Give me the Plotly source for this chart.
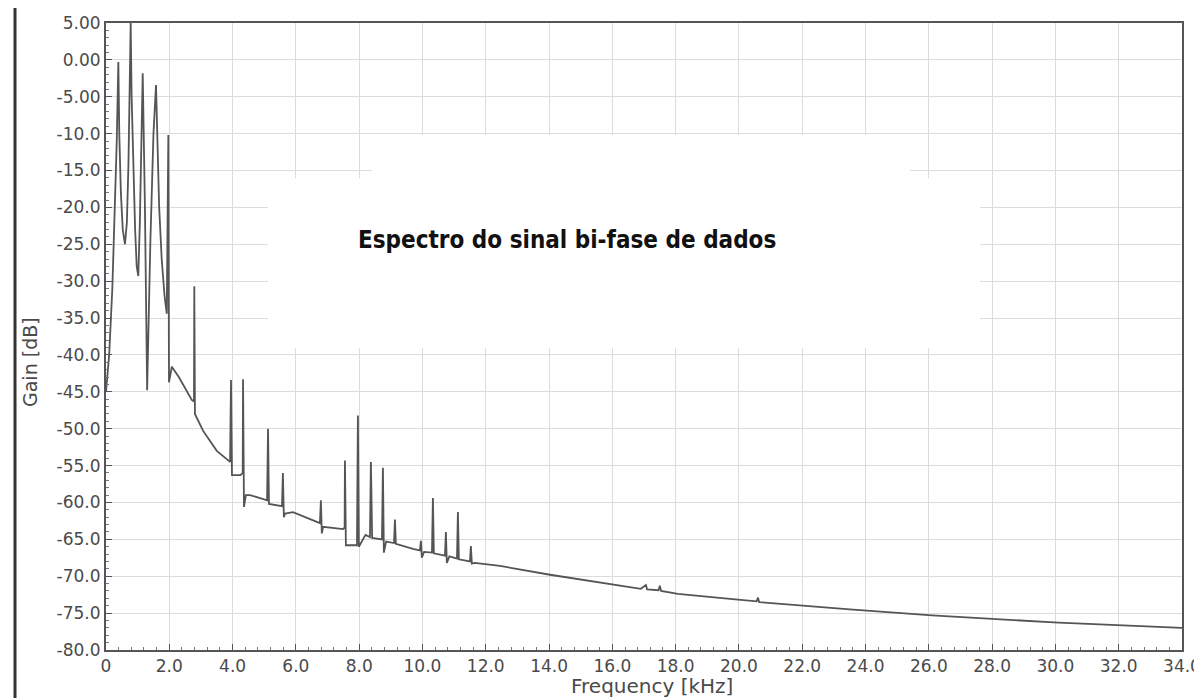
import plotly.graph_objects as go

# ---------------- data ----------------
freq_khz = [0.00, 0.10, 0.20, 0.28, 0.34, 0.39, 0.42, 0.47, 0.53, 0.60, 0.66, 0.71, 0.75, 0.78,
            0.81, 0.86, 0.92, 0.97, 1.02, 1.07, 1.12, 1.16, 1.23, 1.30, 1.40, 1.50, 1.58, 1.62,
            1.68, 1.76, 1.85, 1.92, 1.97, 1.99, 2.08, 2.30, 2.50, 2.71, 2.78, 2.79, 2.81, 3.07,
            3.50, 3.92, 3.95, 3.98, 4.25, 4.32, 4.33, 4.36, 4.42, 4.55, 5.09, 5.12, 5.15, 5.56,
            5.59, 5.62, 5.66, 5.91, 6.76, 6.79, 6.82, 6.86, 7.49, 7.54, 7.55, 7.58, 7.93, 7.96,
            7.99, 8.20, 8.34, 8.37, 8.41, 8.72, 8.75, 8.78, 8.85, 9.10, 9.13, 9.16, 9.70, 9.92,
            9.95, 9.98, 10.05, 10.30, 10.33, 10.36, 10.71, 10.74, 10.77, 10.85, 11.09, 11.12,
            11.15, 11.50, 11.53, 11.56, 11.65, 12.45, 14.03, 16.00, 16.90, 17.06, 17.10, 17.46,
            17.50, 17.54, 18.07, 19.80, 20.56, 20.60, 20.64, 23.50, 26.10, 30.10, 34.00]

gain_db = [-45.0, -40.0, -31.0, -21.0, -11.0, -0.3, -10.0, -18.0, -23.0, -25.0, -22.0, -14.0, -4.0, 5.0,
           -5.0, -15.0, -23.0, -28.0, -29.3, -22.0, -10.0, -1.8, -20.0, -44.8, -25.0, -10.0, -3.4, -12.0,
           -20.0, -27.0, -32.0, -34.4, -10.2, -43.7, -41.6, -43.0, -44.5, -46.1, -46.3, -30.7, -48.0, -50.3,
           -53.0, -54.5, -43.4, -56.3, -56.3, -56.0, -43.3, -60.6, -59.0, -59.0, -59.7, -50.0, -60.2, -60.5,
           -56.0, -62.0, -61.5, -61.3, -62.8, -59.7, -64.2, -63.3, -63.6, -63.4, -54.3, -65.8, -65.8, -48.2,
           -66.0, -64.4, -64.7, -54.5, -64.8, -65.0, -55.3, -66.8, -65.3, -65.5, -62.3, -65.6, -66.3, -66.5,
           -65.2, -67.5, -66.7, -66.8, -59.4, -66.9, -67.2, -64.0, -68.2, -67.3, -67.6, -61.3,
           -67.7, -68.0, -65.9, -68.3, -68.2, -68.6, -69.8, -71.1, -71.7, -71.2, -71.8, -71.9,
           -71.3, -72.0, -72.4, -73.1, -73.4, -72.9, -73.5, -74.5, -75.3, -76.3, -77.0]

x_tick_vals = [0, 2, 4, 6, 8, 10, 12, 14, 16, 18, 20, 22, 24, 26, 28, 30, 32, 34]
x_tick_text = ["0", "2.0", "4.0", "6.0", "8.0", "10.0", "12.0", "14.0", "16.0", "18.0", "20.0",
               "22.0", "24.0", "26.0", "28.0", "30.0", "32.0", "34.0"]
y_tick_vals = [5, 0, -5, -10, -15, -20, -25, -30, -35, -40, -45, -50, -55, -60, -65, -70, -75, -80]
y_tick_text = ["5.00", "0.00", "-5.00", "-10.0", "-15.0", "-20.0", "-25.0", "-30.0", "-35.0",
               "-40.0", "-45.0", "-50.0", "-55.0", "-60.0", "-65.0", "-70.0", "-75.0", "-80.0"]

title_text = "Espectro do sinal bi-fase de dados"
x_title = "Frequency [kHz]"
y_title = "Gain [dB]"

# ---------------- layout geometry (screen pixels) ----------------
OFF = 8                      # default page margin of the written html
W, H = 1202, 698
L, R, T, B = 106, 1182, 23, 650   # plot area edges on screen
PW, PH = R - L, B - T


def px(xp):
    return (xp - L) / PW


def py(yp):
    return (B - yp) / PH


fig = go.Figure()
fig.add_trace(go.Scatter(
    x=freq_khz, y=gain_db, mode="lines",
    line=dict(color="#555555", width=1.8),
    hoverinfo="x+y", showlegend=False,
))

axis_font = dict(family="DejaVu Sans, Verdana, sans-serif", size=17, color="#4a4a4a")

fig.update_layout(
    width=W, height=H,
    margin=dict(l=L - OFF, r=W - R + OFF, t=T - OFF, b=H - B + OFF, autoexpand=False),
    paper_bgcolor="white", plot_bgcolor="white",
    xaxis=dict(
        range=[0, 34], tickvals=x_tick_vals, ticktext=x_tick_text,
        showgrid=True, gridcolor="#dcdcdc", gridwidth=1, zeroline=False,
        showline=True, linecolor="#555555", linewidth=2, mirror=True,
        ticks="inside", ticklen=6, tickcolor="#555555",
        minor=dict(dtick=0.4, ticks="inside", ticklen=3, tickcolor="#777777", showgrid=False),
        tickfont=axis_font,
    ),
    yaxis=dict(
        range=[-80, 5], tickvals=y_tick_vals, ticktext=y_tick_text,
        showgrid=True, gridcolor="#dcdcdc", gridwidth=1, zeroline=False,
        showline=True, linecolor="#555555", linewidth=2, mirror=True,
        ticks="inside", ticklen=6, tickcolor="#555555",
        minor=dict(dtick=1, ticks="inside", ticklen=3, tickcolor="#777777", showgrid=False),
        tickfont=axis_font,
    ),
    shapes=[
        # dark bar at the left edge of the image
        dict(type="line", xref="paper", yref="paper",
             x0=px(15), x1=px(15), y0=py(7), y1=py(698),
             line=dict(color="#333333", width=3)),
        # white label box behind the title
        dict(type="rect", xref="paper", yref="paper", layer="above",
             x0=px(268), x1=px(980), y0=py(348), y1=py(178),
             fillcolor="white", line=dict(width=0)),
        dict(type="rect", xref="paper", yref="paper", layer="above",
             x0=px(372), x1=px(910), y0=py(178), y1=py(135),
             fillcolor="white", line=dict(width=0)),
    ],
    annotations=[
        dict(text="<b>" + title_text + "</b>", xref="paper", yref="paper",
             x=px(567), y=py(240), xanchor="center", yanchor="middle", showarrow=False,
             font=dict(family="DejaVu Sans Condensed, Liberation Sans Narrow, Arial Narrow, sans-serif",
                       size=24, color="#111111")),
        dict(text=y_title, xref="paper", yref="paper", textangle=-90,
             x=px(30), y=py(362), xanchor="center", yanchor="middle", showarrow=False,
             font=dict(family="DejaVu Sans, Verdana, sans-serif", size=19, color="#4a4a4a")),
        dict(text=x_title, xref="paper", yref="paper",
             x=px(652), y=py(672), xanchor="center", yanchor="top", showarrow=False,
             font=dict(family="DejaVu Sans, Verdana, sans-serif", size=20, color="#4a4a4a")),
    ],
)

fig.write_html("out.html")
